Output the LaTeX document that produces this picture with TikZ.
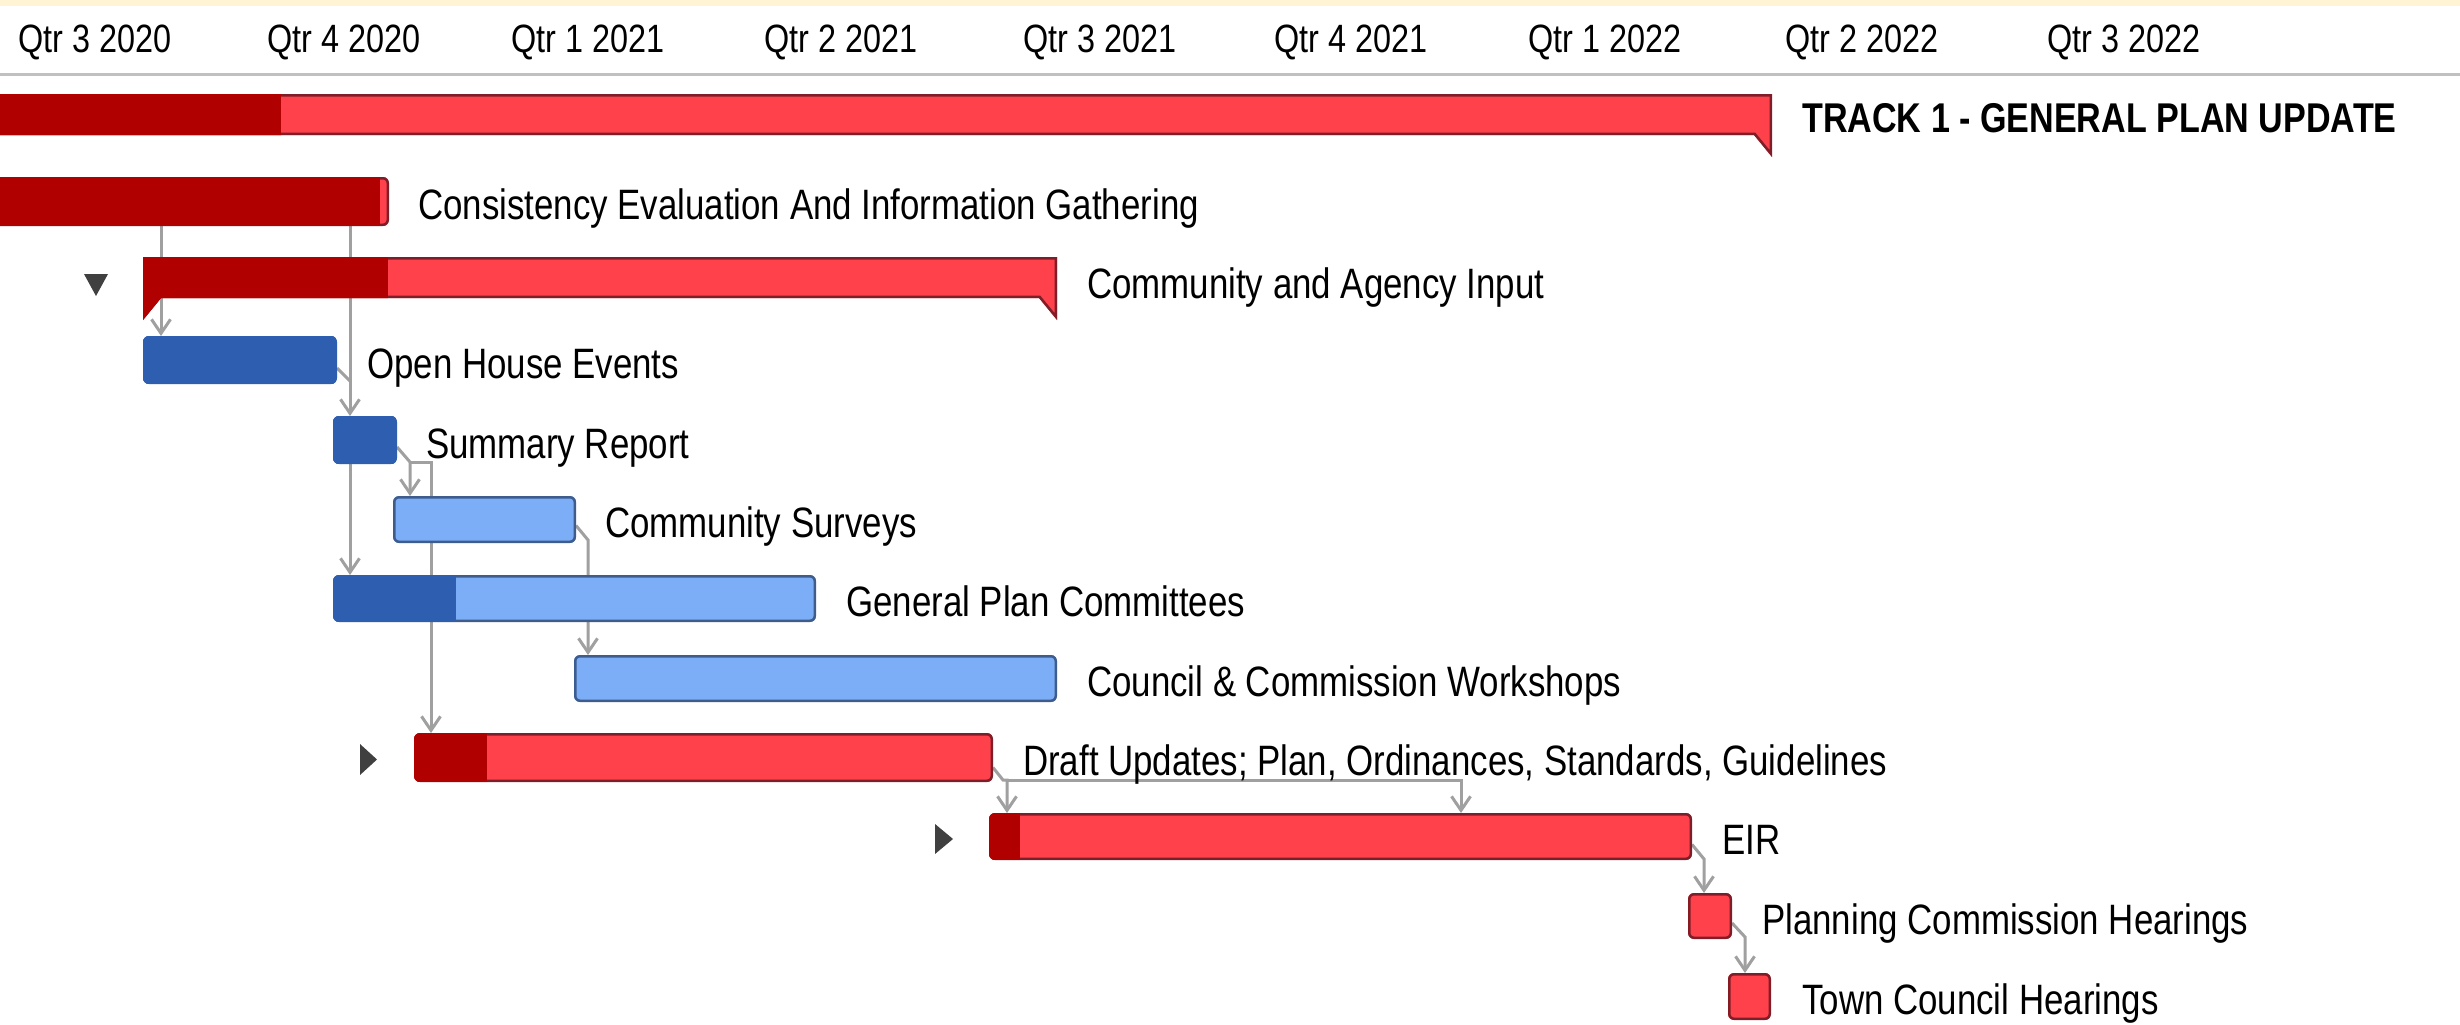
\documentclass[tikz,border=0pt]{standalone}
\usepackage{fontspec}
\setmainfont{Liberation Sans}[FakeStretch=0.82]
\usetikzlibrary{calc,arrows.meta}
\definecolor{lred}{HTML}{FF414B}
\definecolor{dred}{HTML}{B00000}
\definecolor{bred}{HTML}{7E1E28}
\definecolor{dblue}{HTML}{2D5EAF}
\definecolor{lblue}{HTML}{7CAEF8}
\definecolor{bblue}{HTML}{3E5C8C}
\definecolor{cgray}{HTML}{A0A0A0}
\definecolor{mgray}{HTML}{404040}
\definecolor{cream}{HTML}{FFF5D5}
\definecolor{hline}{HTML}{C0C0C0}
\tikzset{
  box/.style={rectangle, inner sep=0pt, outer sep=0pt, draw=none},
  lbl/.style={anchor=base west, inner sep=0pt, font=\fontsize{42.5}{50}\selectfont},
  hdr/.style={anchor=base west, inner sep=0pt, font=\fontsize{39.5}{46}\selectfont},
  conn/.style={draw=cgray, line width=3pt},
  arr/.style={conn, -{Straight Barb[length=14pt,width=19pt]}},
}
% #1 node, #2 progress width, #3 light fill, #4 dark fill, #5 border colour
\newcommand\taskbar[5]{%
  \begin{scope}
    \clip[rounded corners=6pt] (#1.south west) rectangle (#1.north east);
    \fill[#3] (#1.south west) rectangle (#1.north east);
    \draw[#5,line width=5pt,rounded corners=6pt] (#1.south west) rectangle (#1.north east);
    \fill[#4] (#1.south west) rectangle ($(#1.north west)+(#2,0)$);
  \end{scope}}
\newcommand\sumpath[1]{(#1.north west) -- (#1.north east) -- ($(#1.south east)+(0,22)$) -- ($(#1.south east)+(-18,0)$) -- ($(#1.south west)+(18,0)$) -- ($(#1.south west)+(0,22)$) -- cycle}
\newcommand\sumbar[2]{%
  \begin{scope}
    \clip \sumpath{#1};
    \fill[lred] \sumpath{#1};
    \draw[bred,line width=5pt] \sumpath{#1};
    \fill[dred] (#1.north west) rectangle ($(#1.south west)+(#2,22)$);
  \end{scope}}
\begin{document}
\begin{tikzpicture}[x=1pt,y=-1pt]
\useasboundingbox (0,0) rectangle (2460,1025);
\clip (0,0) rectangle (2460,1025);
\fill[white] (0,0) rectangle (2460,1025);
\fill[cream] (0,0) rectangle (2460,6);
\draw[hline,line width=3pt] (0,75) -- (2460,75);

% header
\node[hdr] (q1) at (18,53) {Qtr 3 2020};
\node[hdr] (q2) at (267,53) {Qtr 4 2020};
\node[hdr] (q3) at (511,53) {Qtr 1 2021};
\node[hdr] (q4) at (764,53) {Qtr 2 2021};
\node[hdr] (q5) at (1023,53) {Qtr 3 2021};
\node[hdr] (q6) at (1274,53) {Qtr 4 2021};
\node[hdr] (q7) at (1528,53) {Qtr 1 2022};
\node[hdr] (q8) at (1785,53) {Qtr 2 2022};
\node[hdr] (q9) at (2047,53) {Qtr 3 2022};

% bar nodes
\node[box, minimum width=1812pt, minimum height=41pt] (t1)   at (866,114.5) {};
\node[box, minimum width=409pt,  minimum height=49pt] (cons) at (184.5,201.5) {};
\node[box, minimum width=914pt,  minimum height=41pt] (comm) at (600,277.5) {};
\node[box, minimum width=194pt,  minimum height=48pt] (oh)   at (240,360) {};
\node[box, minimum width=64pt,   minimum height=48pt] (sr)   at (365,440) {};
\node[box, minimum width=183pt,  minimum height=47pt] (cs)   at (484.5,519.5) {};
\node[box, minimum width=483pt,  minimum height=47pt] (gpc)  at (574.5,598.5) {};
\node[box, minimum width=483pt,  minimum height=47pt] (cw)   at (815.5,678.5) {};
\node[box, minimum width=579pt,  minimum height=49pt] (dr)   at (703.5,757.5) {};
\node[box, minimum width=703pt,  minimum height=47pt] (eir)  at (1340.5,836.5) {};
\node[box, minimum width=44pt,   minimum height=46pt] (pch)  at (1710,916) {};
\node[box, minimum width=43pt,   minimum height=47pt] (tch)  at (1749.5,996.5) {};

% connectors (behind bars)
\coordinate (a1) at ($(oh.north west)+(18,0)$);
\draw[arr] (a1 |- cons.south) -- (a1);
\coordinate (a2) at ($(sr.north west)+(17,0)$);
\draw[arr] (a2 |- cons.south) -- (a2);
\coordinate (j1) at ($(oh.south east)+(13,-3)$);
\draw[conn] ($(oh.east)+(0,8)$) -- (j1);
\draw[arr] (a2 |- sr.south) -- (a2 |- gpc.north);
\coordinate (sr1) at ($(sr.east)+(0,7)$);
\coordinate (sr2) at ($(sr.south east)+(13,-2)$);
\draw[arr] (sr1) -- (sr2) -- (sr2 |- cs.north);
\coordinate (a5) at ($(dr.north west)+(17,0)$);
\draw[arr] (sr2) -- (sr2 -| a5) -- (a5);
\coordinate (cs2) at ($(cs.south east)+(12,-3)$);
\draw[arr] ($(cs.east)+(0,6)$) -- (cs2) -- (cs2 |- cw.north);
\coordinate (d2) at ($(dr.south east)+(10,-2)$);
\coordinate (e1) at ($(eir.north west)+(18,0)$);
\coordinate (e2) at ($(eir.north west)+(472,0)$);
\draw[arr] ($(dr.east)+(0,10)$) -- (d2) -- (d2 -| e1) -- (e1);
\draw[arr] (d2 -| e1) -- (d2 -| e2) -- (e2);
\coordinate (ei2) at ($(eir.south east)+(12,-1)$);
\draw[arr] ($(eir.east)+(0,8)$) -- (ei2) -- (ei2 |- pch.north);
\coordinate (p2) at ($(pch.south east)+(13,-2)$);
\draw[arr] ($(pch.east)+(0,7)$) -- (p2) -- (p2 |- tch.north);

% bars
\sumbar{t1}{321}
\taskbar{cons}{400}{lred}{dred}{bred}
\sumbar{comm}{245}
\taskbar{oh}{194}{dblue}{dblue}{dblue}
\taskbar{sr}{64}{dblue}{dblue}{dblue}
\taskbar{cs}{0}{lblue}{dblue}{bblue}
\taskbar{gpc}{123}{lblue}{dblue}{bblue}
\taskbar{cw}{0}{lblue}{dblue}{bblue}
\taskbar{dr}{73}{lred}{dred}{bred}
\taskbar{eir}{31}{lred}{dred}{bred}
\taskbar{pch}{0}{lred}{dred}{bred}
\taskbar{tch}{0}{lred}{dred}{bred}

% markers
\fill[mgray] (84,274) -- (108,274) -- (96,296) -- cycle;
\fill[mgray] (360,744) -- (377,759.5) -- (360,775) -- cycle;
\fill[mgray] (935,824) -- (953,839) -- (935,854) -- cycle;

% labels
\node[lbl, font=\bfseries\fontsize{41.6}{50}\selectfont] (lt1) at ($(t1.east)+(30,18)$) {TRACK 1 - GENERAL PLAN UPDATE};
\node[lbl] (lcons) at ($(cons.east)+(29,18)$) {Consistency Evaluation And Information Gathering};
\node[lbl] (lcomm) at ($(comm.east)+(30,21)$) {Community and Agency Input};
\node[lbl] (loh) at ($(oh.east)+(30,18)$) {Open House Events};
\node[lbl] (lsr) at ($(sr.east)+(29,18)$) {Summary Report};
\node[lbl] (lcs) at ($(cs.east)+(29,18)$) {Community Surveys};
\node[lbl] (lgpc) at ($(gpc.east)+(30,18)$) {General Plan Committees};
\node[lbl] (lcw) at ($(cw.east)+(30,18)$) {Council \& Commission Workshops};
\node[lbl] (ldr) at ($(dr.east)+(30,18)$) {Draft Updates; Plan, Ordinances, Standards, Guidelines};
\node[lbl] (leir) at ($(eir.east)+(30,18)$) {EIR};
\node[lbl] (lpch) at ($(pch.east)+(30,18)$) {Planning Commission Hearings};
\node[lbl] (ltch) at ($(tch.east)+(31,18)$) {Town Council Hearings};
\end{tikzpicture}
\end{document}
